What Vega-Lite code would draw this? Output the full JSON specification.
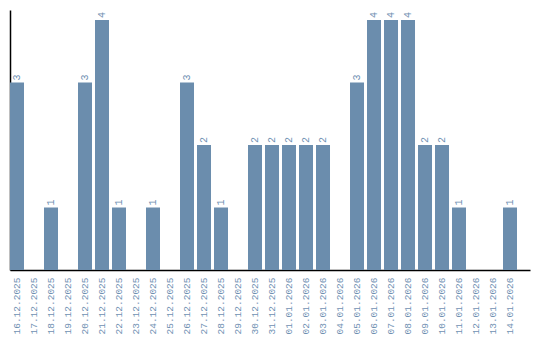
{
  "$schema": "https://vega.github.io/schema/vega-lite/v6.json",
  "width": 520,
  "height": 260,
  "padding": {"left": 10, "top": 10, "right": 10, "bottom": 70},
  "autosize": {"type": "none"},
  "config": {"view": {"stroke": null}, "font": "Liberation Mono"},
  "data": {"values": [
    {"date": "16.12.2025", "count": 3},
    {"date": "17.12.2025", "count": 0},
    {"date": "18.12.2025", "count": 1},
    {"date": "19.12.2025", "count": 0},
    {"date": "20.12.2025", "count": 3},
    {"date": "21.12.2025", "count": 4},
    {"date": "22.12.2025", "count": 1},
    {"date": "23.12.2025", "count": 0},
    {"date": "24.12.2025", "count": 1},
    {"date": "25.12.2025", "count": 0},
    {"date": "26.12.2025", "count": 3},
    {"date": "27.12.2025", "count": 2},
    {"date": "28.12.2025", "count": 1},
    {"date": "29.12.2025", "count": 0},
    {"date": "30.12.2025", "count": 2},
    {"date": "31.12.2025", "count": 2},
    {"date": "01.01.2026", "count": 2},
    {"date": "02.01.2026", "count": 2},
    {"date": "03.01.2026", "count": 2},
    {"date": "04.01.2026", "count": 0},
    {"date": "05.01.2026", "count": 3},
    {"date": "06.01.2026", "count": 4},
    {"date": "07.01.2026", "count": 4},
    {"date": "08.01.2026", "count": 4},
    {"date": "09.01.2026", "count": 2},
    {"date": "10.01.2026", "count": 2},
    {"date": "11.01.2026", "count": 1},
    {"date": "12.01.2026", "count": 0},
    {"date": "13.01.2026", "count": 0},
    {"date": "14.01.2026", "count": 1}
  ]},
  "encoding": {
    "x": {
      "field": "date", "type": "ordinal", "sort": null,
      "scale": {"paddingInner": 0.1765, "paddingOuter": 0.382, "align": 0},
      "axis": {
        "title": null, "labelAngle": -90, "ticks": false, "labelPadding": 7,
        "labelColor": "#6f90b2", "labelFontSize": 9.5, "labelFont": "Liberation Mono",
        "domainColor": "#000000", "domainWidth": 1.5
      }
    },
    "y": {
      "field": "count", "type": "quantitative",
      "scale": {"domain": [0, 4.16], "nice": false, "zero": true},
      "axis": {"title": null, "labels": false, "ticks": false, "grid": false, "domainColor": "#000000", "domainWidth": 1.5}
    }
  },
  "layer": [
    {"mark": {"type": "bar", "color": "#6b8dad"}},
    {
      "transform": [{"filter": "datum.count > 0"}],
      "mark": {"type": "text", "angle": 270, "align": "left", "baseline": "middle", "dx": 2, "fontSize": 10, "font": "Liberation Mono", "color": "#6f90b2"},
      "encoding": {"text": {"field": "count", "type": "quantitative"}}
    }
  ]
}
